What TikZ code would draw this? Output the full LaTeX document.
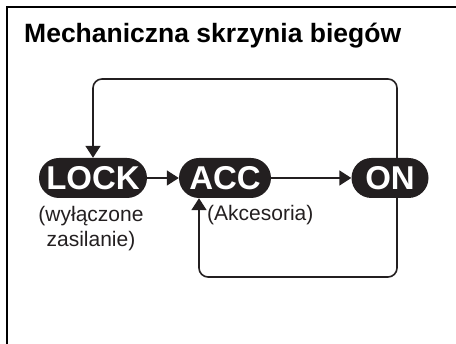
\documentclass[tikz,border=0pt]{standalone}
\usepackage{fontspec}
\setmainfont{Liberation Sans}
\usetikzlibrary{arrows.meta}
\definecolor{ink}{RGB}{35,31,32}
\begin{document}
\begin{tikzpicture}[x=1pt,y=-1pt,
  state/.style={fill=ink, text=white, rounded corners=20pt, minimum height=40pt, inner sep=0pt, font=\fontsize{33}{33}\selectfont\bfseries},
  conn/.style={draw=ink, line width=1.6pt, -{Triangle[length=12pt,width=15pt]}, rounded corners=9pt},
  lbl/.style={text=ink, font=\fontsize{21}{25}\selectfont}]
\useasboundingbox (0,0) rectangle (456,344);
\draw[line width=2pt] (7,344) -- (7,7) -- (456,7);
\node[anchor=base west, inner sep=0pt, font=\fontsize{26.5}{26.5}\selectfont\bfseries] (title) at (24,43) {Mechaniczna skrzynia biegów};
\node[state, minimum width=108pt] (lock) at (93,178) {LOCK};
\node[state, minimum width=92pt] (acc) at (225,178) {ACC};
\node[state, minimum width=77pt] (on) at (390,178) {ON};
\coordinate (top) at (0,79);
\coordinate (bot) at (0,277);
\draw[conn] (lock) -- (acc);
\draw[conn] (acc) -- (on);
\draw[conn] ([xshift=7pt]on.north) |- (top -| lock.north) -- (lock.north);
\draw[conn] ([xshift=7pt]on.south) |- (bot -| 199,0) -- ([xshift=-26pt]acc.south);
\node[lbl, align=center] (lockl) at (91,229) {(wyłączone\\zasilanie)};
\node[lbl, anchor=base west, inner sep=0pt] (accl) at (207,221) {(Akcesoria)};
\end{tikzpicture}
\end{document}
